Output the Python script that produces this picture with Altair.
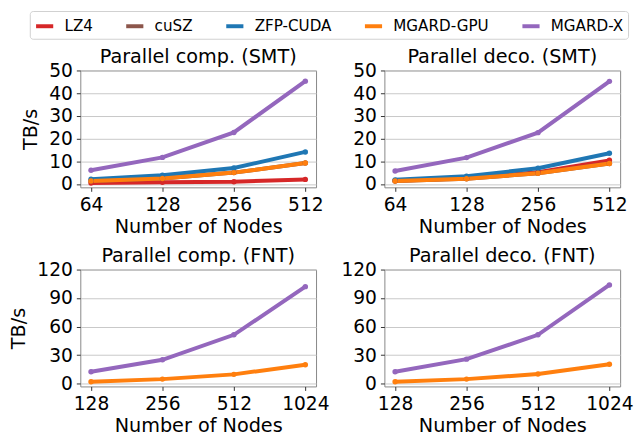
import altair as alt
import pandas as pd

methods = ["LZ4", "cuSZ", "ZFP-CUDA", "MGARD-GPU", "MGARD-X"]
colors = ["#d62728", "#8c564b", "#1f77b4", "#ff7f0e", "#9467bd"]

smt_nodes = ["64", "128", "256", "512"]
fnt_nodes = ["128", "256", "512", "1024"]

# Parallel compression (SMT), TB/s
comp_smt = {
    "LZ4": [0.45, 0.7, 1.0, 2.0],
    "cuSZ": [1.3, 2.4, 5.0, 9.2],
    "ZFP-CUDA": [2.1, 3.8, 7.0, 14.1],
    "MGARD-GPU": [1.3, 2.4, 5.0, 9.2],
    "MGARD-X": [6.0, 11.7, 22.7, 45.3],
}
# Parallel decompression (SMT), TB/s
deco_smt = {
    "LZ4": [1.4, 2.5, 5.2, 10.4],
    "cuSZ": [1.3, 2.3, 4.7, 9.0],
    "ZFP-CUDA": [1.8, 3.4, 6.9, 13.5],
    "MGARD-GPU": [1.3, 2.3, 4.7, 9.0],
    "MGARD-X": [5.7, 11.6, 22.6, 45.2],
}
# Parallel compression (FNT), TB/s
comp_fnt = {
    "MGARD-GPU": [2.0, 4.7, 9.7, 19.9],
    "MGARD-X": [12.5, 25.0, 51.3, 102.0],
}
# Parallel decompression (FNT), TB/s
deco_fnt = {
    "MGARD-GPU": [2.0, 4.7, 10.0, 20.3],
    "MGARD-X": [12.5, 25.7, 51.3, 103.8],
}

FONT = "DejaVu Sans"


def to_df(d, nodes):
    rows = []
    for m in methods:
        if m in d:
            for n, v in zip(nodes, d[m]):
                rows.append({"method": m, "nodes": n, "value": v})
    return pd.DataFrame(rows)


legend = alt.Legend(
    title=None,
    orient="none",
    legendX=-51,
    legendY=-60,
    direction="horizontal",
    columns=5,
)


def panel(d, nodes, title, ydom, yticks, ytitle):
    df = to_df(d, nodes)
    return (
        alt.Chart(df, title=alt.Title(title, frame="group"))
        .mark_line(strokeWidth=4, point=alt.OverlayMarkDef(size=30, filled=True))
        .encode(
            x=alt.X(
                "nodes:O",
                sort=nodes,
                scale=alt.Scale(type="point", padding=0.15),
                axis=alt.Axis(title="Number of Nodes", labelAngle=0, grid=False),
            ),
            y=alt.Y(
                "value:Q",
                scale=alt.Scale(domain=ydom, nice=False, zero=False),
                axis=alt.Axis(values=yticks, title=ytitle),
            ),
            color=alt.Color(
                "method:N",
                scale=alt.Scale(domain=methods, range=colors),
                legend=legend,
            ),
        )
        .properties(width=238, height=118)
    )


p1 = panel(comp_smt, smt_nodes, "Parallel comp. (SMT)", [-1.5, 50], [0, 10, 20, 30, 40, 50], "TB/s")
p2 = panel(deco_smt, smt_nodes, "Parallel deco. (SMT)", [-1.5, 50], [0, 10, 20, 30, 40, 50], None)
p3 = panel(comp_fnt, fnt_nodes, "Parallel comp. (FNT)", [-3, 120], [0, 30, 60, 90, 120], "TB/s")
p4 = panel(deco_fnt, fnt_nodes, "Parallel deco. (FNT)", [-3, 120], [0, 30, 60, 90, 120], None)

chart = (
    alt.concat(p1, p2, p3, p4, columns=2, spacing={"row": 83, "column": 69}, bounds="flush")
    .properties(padding={"left": 0, "top": 0, "right": 0, "bottom": 0})
    .configure(font=FONT)
    .configure_view(stroke="#888888", strokeWidth=1)
    .configure_axis(
        labelFont=FONT,
        titleFont=FONT,
        labelFontSize=18.8,
        titleFontSize=19.4,
        titleFontWeight="normal",
        labelColor="#000000",
        titleColor="#000000",
        domain=False,
        tickColor="#333333",
        tickSize=4,
        labelPadding=4,
        gridColor="#c8c8c8",
        gridWidth=1,
    )
    .configure_axisX(titlePadding=4)
    .configure_axisY(titlePadding=8)
    .configure_title(font=FONT, fontSize=19.4, fontWeight="normal", offset=-6, color="#000000")
    .configure_legend(
        labelFont=FONT,
        labelFontSize=15.3,
        labelColor="#000000",
        symbolType="stroke",
        symbolStrokeWidth=4,
        symbolSize=300,
        labelOffset=9,
        columnPadding=25,
        padding=4,
        strokeColor="#d0d0d0",
        fillColor="#ffffff",
        cornerRadius=3,
    )
)

chart.save("out.html", embed_options={"renderer": "svg", "actions": False})
